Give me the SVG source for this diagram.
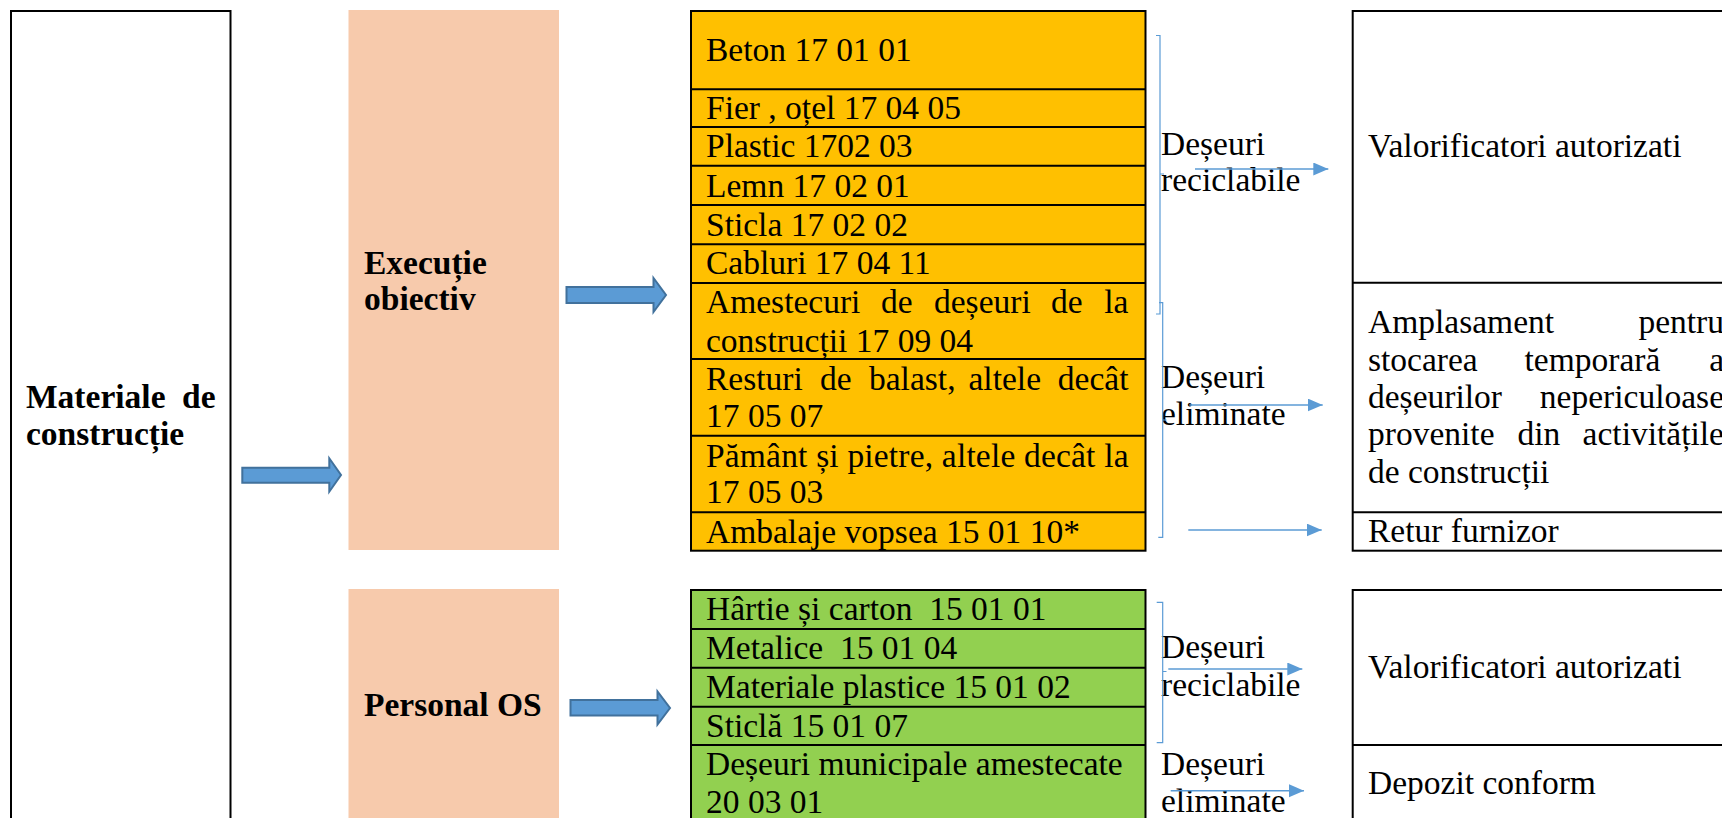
<svg xmlns="http://www.w3.org/2000/svg" width="1722" height="818" viewBox="0 0 1722 818">
<style>
text{font-family:"Liberation Serif","Times New Roman",serif;font-size:33.5px;fill:#000;white-space:pre}
.b{font-weight:bold}
.box{fill:#fff;stroke:#000;stroke-width:2}
.peach{fill:#F7CAAC}
.org{fill:#FFC000;stroke:#000;stroke-width:2}
.grn{fill:#92D050;stroke:#000;stroke-width:2}
.ln{stroke:#000;stroke-width:2}
.big{fill:#5B9BD5;stroke:#41719C;stroke-width:2}
.thin{stroke:#5B9BD5;stroke-width:1.5;fill:none}
.br{stroke:#5B9BD5;stroke-width:1.2;fill:none}
</style>
<defs>
<marker id="ah" markerUnits="userSpaceOnUse" markerWidth="16" markerHeight="14" refX="15" refY="6.5" orient="auto">
<path d="M0,0 L15,6.5 L0,13 z" fill="#5B9BD5"/>
</marker>
</defs>

<g id="materiale">
<rect class="box" x="11" y="11" width="219.5" height="830"/>
<text class="b" y="408"><tspan x="26">Materiale</tspan><tspan x="215.6" text-anchor="end">de</tspan></text>
<text class="b" x="26" y="445">construcție</text>
</g>

<g id="executie">
<rect class="peach" x="348.5" y="10" width="210.5" height="540"/>
<text class="b" x="364" y="274">Execuție</text>
<text class="b" x="364" y="310">obiectiv</text>
</g>

<g id="personal">
<rect class="peach" x="348.5" y="589" width="210.5" height="240"/>
<text class="b" x="364" y="716">Personal OS</text>
</g>

<g id="deseuri-executie">
<rect class="org" x="691" y="11" width="454.5" height="539.7"/>
<line class="ln" x1="691" y1="89.3" x2="1145.5" y2="89.3"/>
<line class="ln" x1="691" y1="127" x2="1145.5" y2="127"/>
<line class="ln" x1="691" y1="165.7" x2="1145.5" y2="165.7"/>
<line class="ln" x1="691" y1="205" x2="1145.5" y2="205"/>
<line class="ln" x1="691" y1="244.3" x2="1145.5" y2="244.3"/>
<line class="ln" x1="691" y1="283" x2="1145.5" y2="283"/>
<line class="ln" x1="691" y1="359" x2="1145.5" y2="359"/>
<line class="ln" x1="691" y1="435.7" x2="1145.5" y2="435.7"/>
<line class="ln" x1="691" y1="512.3" x2="1145.5" y2="512.3"/>
<text x="706" y="61">Beton 17 01 01</text>
<text x="706" y="119">Fier , oțel 17 04 05</text>
<text x="706" y="157">Plastic 1702 03</text>
<text x="706" y="196.7">Lemn 17 02 01</text>
<text x="706" y="235.7">Sticla 17 02 02</text>
<text x="706" y="274">Cabluri 17 04 11</text>
<text y="313.3"><tspan x="706">Amestecuri</tspan><tspan x="881">de</tspan><tspan x="934">deșeuri</tspan><tspan x="1051">de</tspan><tspan x="1128.5" text-anchor="end">la</tspan></text>
<text x="706" y="351.7">construcții 17 09 04</text>
<text y="390"><tspan x="706">Resturi</tspan><tspan x="820">de</tspan><tspan x="869">balast,</tspan><tspan x="968.5">altele</tspan><tspan x="1128.5" text-anchor="end">decât</tspan></text>
<text x="706" y="427.3">17 05 07</text>
<text x="706" y="466.7" textLength="422.5" lengthAdjust="spacing">Pământ și pietre, altele decât la</text>
<text x="706" y="503.3">17 05 03</text>
<text x="706" y="542.7">Ambalaje vopsea 15 01 10*</text>
</g>

<g id="deseuri-personal">
<rect class="grn" x="691" y="590" width="454.5" height="240"/>
<line class="ln" x1="691" y1="629" x2="1145.5" y2="629"/>
<line class="ln" x1="691" y1="667.7" x2="1145.5" y2="667.7"/>
<line class="ln" x1="691" y1="706.7" x2="1145.5" y2="706.7"/>
<line class="ln" x1="691" y1="745" x2="1145.5" y2="745"/>
<text x="706" y="620">Hârtie și carton  15 01 01</text>
<text x="706" y="659">Metalice  15 01 04</text>
<text x="706" y="697.7">Materiale plastice 15 01 02</text>
<text x="706" y="736.7">Sticlă 15 01 07</text>
<text x="706" y="775">Deșeuri municipale amestecate</text>
<text x="706" y="813">20 03 01</text>
</g>

<g id="destinatii-executie">
<rect class="box" x="1352.7" y="11" width="400" height="539.7"/>
<line class="ln" x1="1352.7" y1="282.7" x2="1752" y2="282.7"/>
<line class="ln" x1="1352.7" y1="512.3" x2="1752" y2="512.3"/>
<text x="1368" y="156.7">Valorificatori autorizati</text>
<text y="333.3"><tspan x="1368">Amplasament</tspan><tspan x="1724" text-anchor="end">pentru</tspan></text>
<text y="370.7"><tspan x="1368">stocarea</tspan><tspan x="1524.5">temporară</tspan><tspan x="1724" text-anchor="end">a</tspan></text>
<text y="408.3"><tspan x="1368">deșeurilor</tspan><tspan x="1724" text-anchor="end">nepericuloase</tspan></text>
<text y="445"><tspan x="1368">provenite</tspan><tspan x="1517.5">din</tspan><tspan x="1724" text-anchor="end">activitățile</tspan></text>
<text x="1368" y="482.7">de construcții</text>
<text x="1368" y="541.7">Retur furnizor</text>
</g>

<g id="destinatii-personal">
<rect class="box" x="1352.7" y="590" width="400" height="240"/>
<line class="ln" x1="1352.7" y1="745" x2="1752" y2="745"/>
<text x="1368" y="678.3">Valorificatori autorizati</text>
<text x="1368" y="794.3">Depozit conform</text>
</g>

<g id="etichete">
<text x="1161" y="155">Deșeuri</text>
<text x="1161" y="191">reciclabile</text>
<text x="1161" y="388.3">Deșeuri</text>
<text x="1161" y="425">eliminate</text>
<text x="1161" y="658.3">Deșeuri</text>
<text x="1161" y="695.5">reciclabile</text>
<text x="1161" y="775">Deșeuri</text>
<text x="1161" y="812">eliminate</text>
</g>

<g id="connectors">
<polygon class="big" points="242.3,467.7 329.3,467.7 329.3,458.3 341,475 329.3,491.7 329.3,482.7 242.3,482.7"/>
<polygon class="big" points="566.5,287 653.5,287 653.5,278 666,295 653.5,312 653.5,303 566.5,303"/>
<polygon class="big" points="570.5,700 657.5,700 657.5,691.5 670,708 657.5,724.5 657.5,715.5 570.5,715.5"/>
<path class="br" d="M1156,35.5 H1160 V174 H1164 M1160,174 V314 H1156"/>
<path class="br" d="M1159,302.7 H1162.7 V420 H1166.5 M1162.7,420 V537.3 H1158.3"/>
<path class="br" d="M1156.7,602.3 H1162.7 V671.5 H1166.5 M1162.7,671.5 V742.7 H1156.7"/>
<line class="thin" x1="1195" y1="169" x2="1328.3" y2="169" marker-end="url(#ah)"/>
<line class="thin" x1="1189.3" y1="405" x2="1322.7" y2="405" marker-end="url(#ah)"/>
<line class="thin" x1="1188.3" y1="530" x2="1321.7" y2="530" marker-end="url(#ah)"/>
<line class="thin" x1="1168.3" y1="669" x2="1302.3" y2="669" marker-end="url(#ah)"/>
<line class="thin" x1="1170.7" y1="790.7" x2="1304" y2="790.7" marker-end="url(#ah)"/>
</g>
</svg>
